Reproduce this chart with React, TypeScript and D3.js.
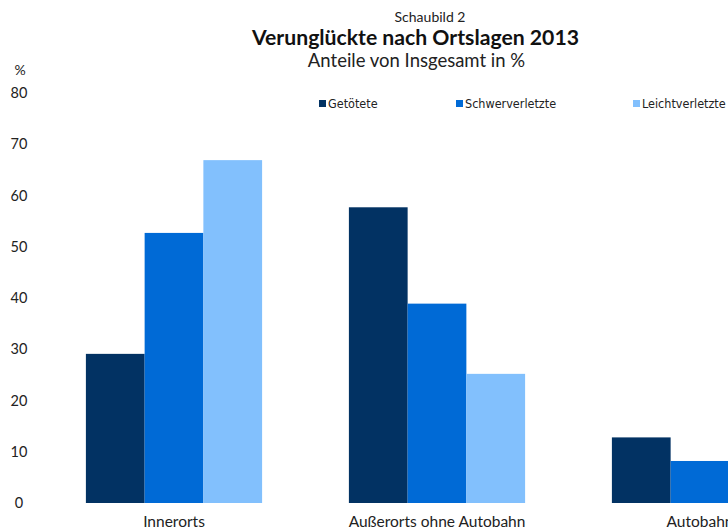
import React from "react";
import * as d3 from "d3";

const categories = ["Innerorts", "Außerorts ohne Autobahn", "Autobahn"];
const seriesNames = ["Getötete", "Schwerverletzte", "Leichtverletzte"];
const getoetete = [29.1, 57.7, 12.8];
const schwerverletzte = [52.7, 38.9, 8.2];
const leichtverletzte = [66.9, 25.2, 7.9];
const yTicks = [0, 10, 20, 30, 40, 50, 60, 70, 80];
const colors = ["#023263", "#006ad6", "#82c0fd"];

const W = 728;
const H = 530;

export default function App() {
  const seriesValues = [getoetete, schwerverletzte, leichtverletzte];
  const x = d3
    .scaleBand<string>()
    .domain(categories)
    .range([42.5, 831.5])
    .paddingInner(0.33)
    .paddingOuter(0.165);
  const x1 = d3.scaleBand<string>().domain(seriesNames).range([0, x.bandwidth()]);
  const y = d3.scaleLinear().domain([0, 80]).range([503, 93]);

  const legendX = [319, 456, 633];
  const narrow = "'Liberation Sans Narrow', 'DejaVu Sans Condensed', sans-serif";
  const title = "Lato, 'Open Sans', sans-serif";

  return (
    <svg
      width={W}
      height={H}
      style={{ position: "absolute", left: 0, top: 0, background: "#fff" }}
    >
      <rect x={0} y={0} width={W} height={H} fill="#fff" />
      <text x={430} y={22} textAnchor="middle" fontFamily={title} fontSize={14} fill="#222">
        Schaubild 2
      </text>
      <text x={415.5} y={45} textAnchor="middle" fontFamily={title} fontWeight={700} fontSize={21.2} fill="#111">
        Verunglückte nach Ortslagen 2013
      </text>
      <text x={416.5} y={67} textAnchor="middle" fontFamily={title} fontSize={18.5} fill="#222">
        Anteile von Insgesamt in %
      </text>
      <text x={20} y={75} textAnchor="middle" fontFamily={title} fontSize={14} fill="#222">
        %
      </text>
      {yTicks.map((t) => (
        <text key={t} x={19} y={y(t) + 5} textAnchor="middle" fontFamily={title} fontSize={14.5} fill="#222">
          {t}
        </text>
      ))}
      {seriesNames.map((s, i) => (
        <g key={s}>
          <rect x={legendX[i]} y={100} width={7} height={7} fill={colors[i]} />
          <text x={legendX[i] + 9} y={108} fontFamily={narrow} fontSize={12.5} fill="#222">
            {s}
          </text>
        </g>
      ))}
      {categories.map((c, ci) => (
        <g key={c} transform={`translate(${x(c)},0)`}>
          {seriesNames.map((s, si) => (
            <rect
              key={s}
              x={x1(s)}
              y={y(seriesValues[si][ci])}
              width={x1.bandwidth()}
              height={y(0) - y(seriesValues[si][ci])}
              fill={colors[si]}
            />
          ))}
          <text
            x={x.bandwidth() / 2}
            y={527}
            textAnchor="middle"
            fontFamily={title}
            fontSize={15.5}
            fill="#222"
          >
            {c}
          </text>
        </g>
      ))}
    </svg>
  );
}
